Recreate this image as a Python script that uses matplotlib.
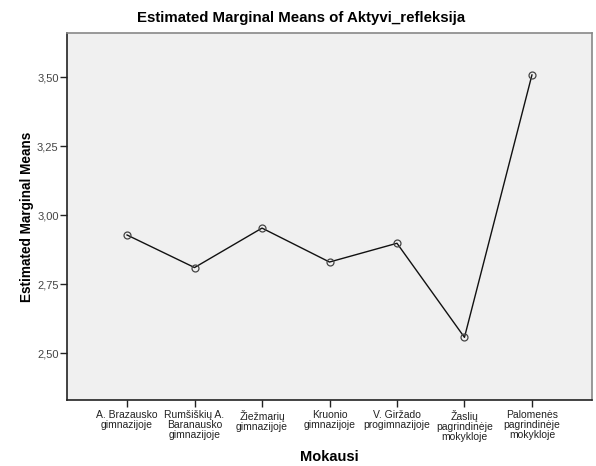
import matplotlib
matplotlib.use('Agg')
import matplotlib.pyplot as plt
from matplotlib.ticker import FuncFormatter

# data
schools = [
    'A. Brazausko\ngimnazijoje',
    'Rumšiškių A.\nBaranausko\ngimnazijoje',
    'Žiežmarių\ngimnazijoje',
    'Kruonio\ngimnazijoje',
    'V. Giržado\nprogimnazijoje',
    'Žaslių\npagrindinėje\nmokykloje',
    'Palomenės\npagrindinėje\nmokykloje',
]
means = [2.928, 2.810, 2.953, 2.830, 2.898, 2.557, 3.508]
y_ticks = [2.50, 2.75, 3.00, 3.25, 3.50]

plt.rcParams['font.family'] = ['Liberation Sans', 'DejaVu Sans']

fig = plt.figure(figsize=(5.96, 4.66), dpi=100)
ax = fig.add_axes([67 / 596, 1 - 400 / 466, (592 - 67) / 596, (400 - 33) / 466])
ax.set_facecolor('#f0f0f0')

x = list(range(len(schools)))
ax.plot(x, means, color='#111111', linewidth=1.0, zorder=2)
ax.plot(x, means, linestyle='none', marker='o', markersize=5,
        markerfacecolor='none', markeredgecolor='#444444',
        markeredgewidth=0.9, zorder=3)

ax.set_xlim(-0.89, len(schools) - 1 + 0.89)
ax.set_ylim(2.33, 3.66)
ax.set_xticks(x)
ax.set_xticklabels(schools, fontsize=7.5, color='#222222', linespacing=1.02)
ax.set_yticks(y_ticks)
ax.yaxis.set_major_formatter(FuncFormatter(lambda v, p: f'{v:.2f}'.replace('.', ',')))
ax.tick_params(axis='y', labelsize=8, labelcolor='#444444', length=5, width=1, color='#222222', pad=1)
ax.tick_params(axis='x', length=5, width=1, color='#222222', pad=2)

for s in ['left', 'bottom']:
    ax.spines[s].set_color('#222222')
    ax.spines[s].set_linewidth(1.2)
for s in ['top', 'right']:
    ax.spines[s].set_color('#888888')
    ax.spines[s].set_linewidth(1.2)

ax.set_ylabel('Estimated Marginal Means', fontsize=9.8, fontweight='bold')
ax.yaxis.set_label_coords((34 - 67) / 525, 0.5)
ax.set_xlabel('Mokausi', fontsize=10.5, fontweight='bold', labelpad=6)
fig.text(0.505, 1 - 18 / 466, 'Estimated Marginal Means of Aktyvi_refleksija',
         ha='center', va='center', fontsize=10.8, fontweight='bold')

fig.savefig('out.png', dpi=100)
